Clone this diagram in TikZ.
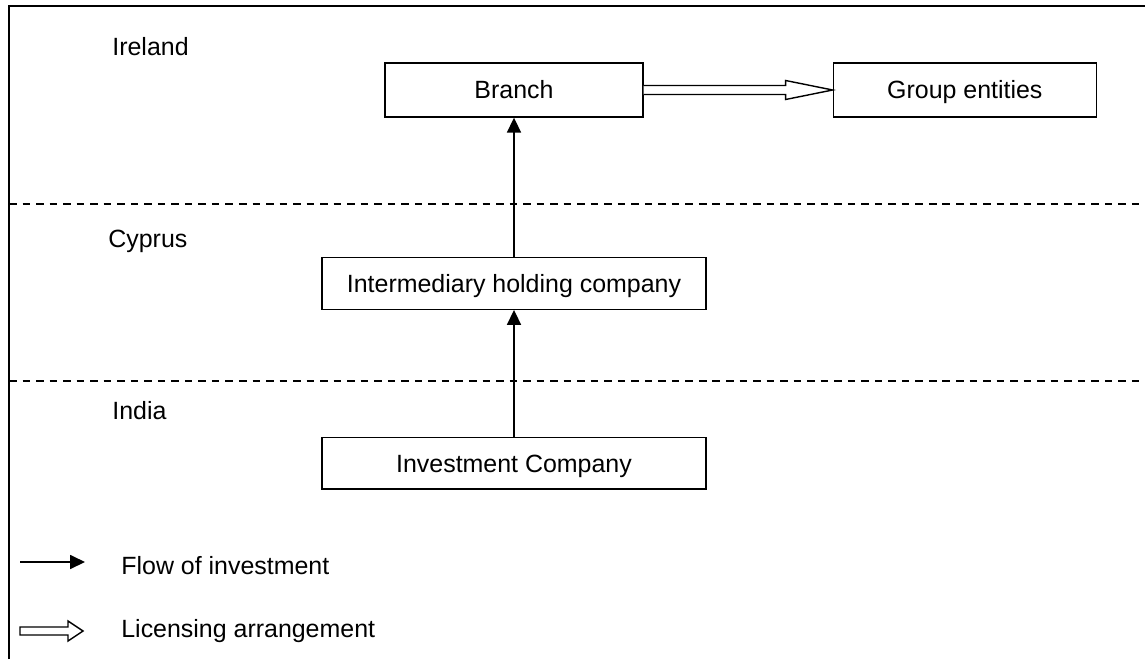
\documentclass[tikz,border=0pt]{standalone}
\usepackage{fontspec}
\setmainfont{Liberation Sans}
\usetikzlibrary{arrows.meta, positioning, calc}

\begin{document}
\begin{tikzpicture}[
  x=0.02cm, y=-0.02cm,
  box/.style={draw, line width=0.8pt, minimum width=7.68cm, minimum height=1.03cm,
    align=center, font=\fontsize{14.2}{17}\selectfont, inner sep=0pt,
    text height=10.2pt, text depth=0pt},
  label/.style={anchor=west, font=\fontsize{14.2}{17}\selectfont, inner sep=0pt},
  arrow/.style={-{Triangle[length=8.5pt, width=8pt]}, line width=0.8pt},
  licence/.style={draw, fill=white, line width=0.8pt, line join=miter},
  border/.style={dash pattern=on 4.3pt off 3.4pt, line width=0.7pt},
  node distance=0.6cm
]
\useasboundingbox (0,0) rectangle (1145,659);
\draw[line width=1.1pt] (9,659) -- (9,6) -- (1145,6);

% country bands
\draw[border] (9,204) -- (1145,204);
\draw[border] (9,381) -- (1145,381);
\node[label] (ireland) at (112,47) {Ireland};
\node[label] (cyprus) at (108,241) {Cyprus};
\node[label] (india) at (112,411) {India};

% entities
\node[box, minimum width=5.16cm, minimum height=1.08cm] (branch) at (514,90) {Branch};
\node[box, minimum width=5.26cm, minimum height=1.08cm, right=3.78cm of branch] (group) {Group entities};
\node[box] (inter) at (514,283.5) {Intermediary holding company};
\node[box, below=2.54cm of inter] (invest) {Investment Company};

\draw[arrow] (invest) -- (inter);
\draw[arrow] (inter) -- (branch);
\draw[licence] ($(branch.east)+(0,-4.5)$) -- ($(group.west)+(-47,-4.5)$)
  -- ($(group.west)+(-47,-9.5)$) -- (group.west) -- ($(group.west)+(-47,9.5)$)
  -- ($(group.west)+(-47,4.5)$) -- ($(branch.east)+(0,4.5)$);

% legend
\coordinate (flowa) at (20,562);
\coordinate (flowb) at (85,562);
\draw[arrow] (flowa) -- (flowb);
\node[label] (flow) at (121,566) {Flow of investment};
\draw[licence] (20,627) -- (68,627) -- (68,621) -- (83,631) -- (68,641)
  -- (68,635) -- (20,635) -- cycle;
\node[label] (licensing) at (121,631) {Licensing arrangement};
\end{tikzpicture}
\end{document}
